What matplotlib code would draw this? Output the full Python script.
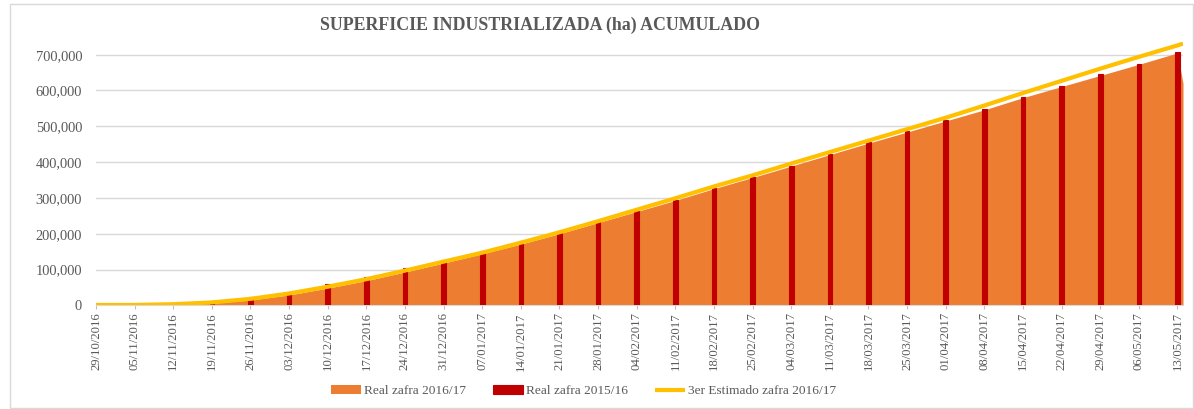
import datetime as dt
import matplotlib
matplotlib.use("Agg")
import matplotlib.pyplot as plt
import matplotlib.dates as mdates
from matplotlib.patches import Rectangle

plt.rcParams['font.family'] = ['Liberation Serif', 'DejaVu Serif']

# fechas semanales (sabados) y un dia extra al final
semanas = [dt.date(2016, 10, 29) + dt.timedelta(days=7 * i) for i in range(29)]
fechas_area = semanas + [dt.date(2017, 5, 14)]

# Real zafra 2016/17 (area), miles de ha
real_1617 = [0, 0.5, 2, 6, 15, 29, 48, 69, 93, 118, 144, 171, 200, 231, 262,
             293, 326, 357, 389, 421, 453, 484, 515, 546, 580, 611, 642, 673, 705,
             620]
# Real zafra 2015/16 (columnas)
real_1516 = [0, 1, 5, 11, 24, 38, 59, 80, 103, 127, 151, 180, 201, 233, 264,
             294, 328, 358, 390, 423, 455, 486, 517, 548, 583, 613, 645, 675, 707]
# 3er Estimado zafra 2016/17 (linea)
estimado = [1, 1, 3, 8, 18, 33, 52, 73, 97, 122, 147, 175, 204, 235, 267,
            299, 332, 363, 396, 428, 460, 492, 524, 558, 593, 627, 661, 694, 726,
            731]

real_1617 = [v * 1000 for v in real_1617]
real_1516 = [v * 1000 for v in real_1516]
estimado = [v * 1000 for v in estimado]

gris = '#595959'

fig = plt.figure(figsize=(11.94, 4.09), dpi=100)
fig.patches.append(Rectangle((10 / 1194, 0.003), 1183 / 1194, 1 - 4 / 409 - 0.003,
                             transform=fig.transFigure, fill=False,
                             edgecolor='#d9d9d9', linewidth=1))
ax = fig.add_axes([96 / 1194, 1 - 305.3 / 409, (1183 - 96) / 1194, (305.3 - 36.8) / 409])

h_area = ax.fill_between(fechas_area, real_1617, color='#ED7D31', linewidth=0,
                         label='Real zafra 2016/17', zorder=2)
h_bar = ax.bar(semanas, real_1516, width=0.85, color='#C00000',
               edgecolor='#C00000', linewidth=0.8, label='Real zafra 2015/16',
               zorder=3)
h_line, = ax.plot(fechas_area, estimado, color='#FFC000', linewidth=3,
                  solid_capstyle='butt', label='3er Estimado zafra 2016/17', zorder=4)

ax.set_xlim(semanas[0], fechas_area[-1])
ax.set_ylim(0, 750000)
ax.set_yticks(range(0, 700001, 100000))
ax.yaxis.set_major_formatter(matplotlib.ticker.FuncFormatter(lambda v, p: f'{int(v):,}'))
ax.set_xticks(semanas)
ax.xaxis.set_major_formatter(mdates.DateFormatter('%d/%m/%Y'))
ax.tick_params(axis='x', rotation=90, labelsize=9.2, colors=gris, length=3,
               color='#bfbfbf', pad=2)
ax.tick_params(axis='y', labelsize=10.4, colors=gris, length=0, pad=10)

ax.grid(axis='y', color='#d9d9d9', linewidth=1, zorder=0)
ax.set_axisbelow(True)
for s in ['top', 'right', 'left']:
    ax.spines[s].set_visible(False)
ax.spines['bottom'].set_color('#d9d9d9')

fig.text(540 / 1194, 1 - 25 / 409, 'SUPERFICIE INDUSTRIALIZADA (ha) ACUMULADO',
         ha='center', va='center', fontsize=12.9, fontweight='bold', color=gris)

fig.legend([h_area, h_bar, h_line],
           ['Real zafra 2016/17', 'Real zafra 2015/16', '3er Estimado zafra 2016/17'],
           loc='center', bbox_to_anchor=(583.5 / 1194, 1 - 391 / 409), ncol=3,
           frameon=False, fontsize=9.6, labelcolor=gris, handlelength=2.3,
           handletextpad=0.2, columnspacing=2.0)

fig.savefig('out.png', dpi=100)
